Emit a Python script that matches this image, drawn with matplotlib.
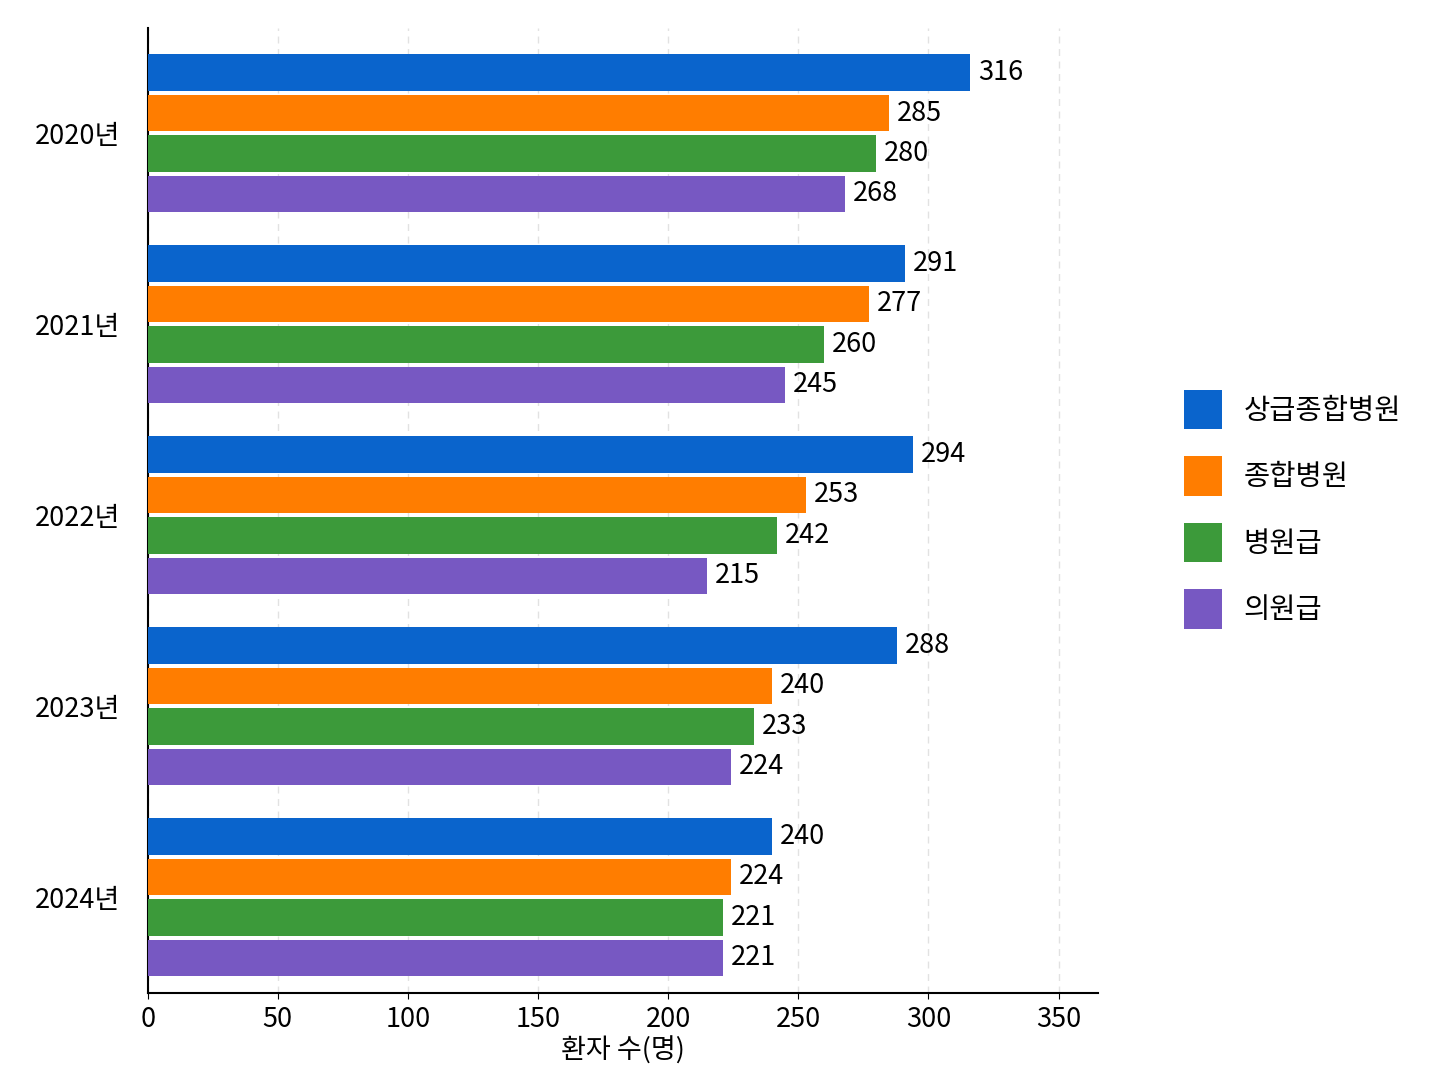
import matplotlib
matplotlib.use("Agg")
import matplotlib.pyplot as plt
import numpy as np

plt.rcParams['font.family'] = ['Noto Sans CJK KR', 'DejaVu Sans']

years = ['2020년', '2021년', '2022년', '2023년', '2024년']
series_names = ['상급종합병원', '종합병원', '병원급', '의원급']
tertiary = [316, 291, 294, 288, 240]
general = [285, 277, 253, 240, 224]
hospital = [280, 260, 242, 233, 221]
clinic = [268, 245, 215, 224, 221]
colors = ['#0a64cc', '#ff7d00', '#3c9a3a', '#7758c2']
xticks = [0, 50, 100, 150, 200, 250, 300, 350]
xlabel = '환자 수(명)'

series = [tertiary, general, hospital, clinic]

fig = plt.figure(figsize=(14.48, 10.86), dpi=100)
ax = fig.add_axes([0.102, 0.086, 0.656, 0.888])

y = np.arange(len(years))
step = 0.212
h = 0.19
for i, (vals, name, c) in enumerate(zip(series, series_names, colors)):
    pos = y + (i - 1.5) * step
    bars = ax.barh(pos, vals, height=h, color=c, label=name, zorder=3)
    for b, v in zip(bars, vals):
        ax.text(b.get_width() + 3, b.get_y() + b.get_height() / 2, str(v),
                va='center', ha='left', fontsize=19.5, zorder=4)

ax.set_yticks(y)
ax.set_yticklabels(years, fontsize=19.5)
ax.set_ylim(4.5, -0.55)
ax.set_xlim(0, 365)
ax.set_xticks(xticks)
ax.set_xticklabels([str(t) for t in xticks], fontsize=19.5)
ax.set_xlabel(xlabel, fontsize=19.5, labelpad=2)
ax.tick_params(axis='y', length=0, pad=20)
ax.tick_params(axis='x', length=4, pad=6)
ax.grid(axis='x', linestyle=(0, (5, 4)), color='#e2e2e2', linewidth=1, zorder=0)
for s in ['top', 'right']:
    ax.spines[s].set_visible(False)
ax.spines['left'].set_linewidth(1.5)
ax.spines['bottom'].set_linewidth(1.5)

leg = fig.legend(loc='center left', bbox_to_anchor=(0.8, 0.531), frameon=False,
                 fontsize=20.5, handlelength=1.35, handleheight=1.75,
                 labelspacing=0.95, handletextpad=0.75)

fig.savefig('out.png', dpi=100)
